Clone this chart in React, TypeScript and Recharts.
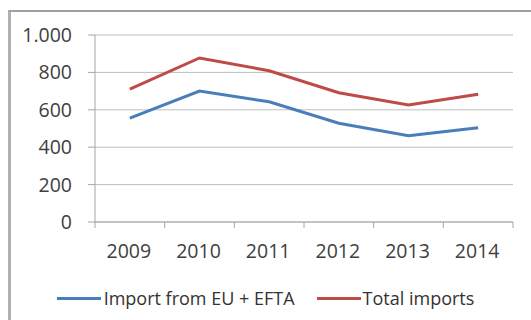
import React from 'react';
import { LineChart, Line, XAxis, YAxis, CartesianGrid, Legend } from 'recharts';

const years = ['2009', '2010', '2011', '2012', '2013', '2014'];
const importEuEfta = [555, 700, 643, 528, 461, 504];
const totalImports = [711, 877, 809, 691, 626, 683];
const yTicks = [0, 200, 400, 600, 800, 1000];

const data = years.map((y, i) => ({ year: y, eu: importEuEfta[i], total: totalImports[i] }));

const FONT = '"Open Sans", sans-serif';
const PLOT_LEFT = 95;
const PLOT_RIGHT = 513;
const BAND = (PLOT_RIGHT - PLOT_LEFT) / years.length;

const fmt = (v: number) => (v >= 1000 ? `${Math.floor(v / 1000)}.${String(v % 1000).padStart(3, '0')}` : String(v));

const XTick = (props: any) => {
  const { x, y, payload, index } = props;
  const left = x - BAND / 2;
  const right = x + BAND / 2;
  return (
    <g>
      <line x1={left} x2={left} y1={y} y2={y + 6} stroke="#a6a6a6" strokeWidth={1} />
      {index === years.length - 1 && (
        <line x1={right} x2={right} y1={y} y2={y + 6} stroke="#a6a6a6" strokeWidth={1} />
      )}
      <text x={x - 1} y={y + 36} textAnchor="middle" fill="#404040" fontSize={19.5} fontFamily={FONT}>
        {payload.value}
      </text>
    </g>
  );
};

const LegendContent = () => (
  <div style={{ display: 'flex', justifyContent: 'center', alignItems: 'center', height: 28, fontFamily: FONT, fontSize: 18, color: '#333' }}>
    <span style={{ display: 'inline-block', width: 44, height: 3, background: '#4a7ebb', marginRight: 3 }} />
    <span style={{ marginRight: 22 }}>Import from EU + EFTA</span>
    <span style={{ display: 'inline-block', width: 44, height: 3, background: '#be4b48', marginRight: 2 }} />
    <span>Total imports</span>
  </div>
);

export default function App() {
  return (
    <div style={{ position: 'absolute', left: 0, top: 0, width: 531, height: 320, background: '#fff', overflow: 'hidden' }}>
      <div style={{ position: 'absolute', left: 8, top: 10, width: 560, height: 340, borderLeft: '3px solid #b0b0b0', borderTop: '2px solid #a0a0a0' }} />
      <div style={{ position: 'absolute', left: 0, top: 0 }}>
        <LineChart width={531} height={320} data={data} margin={{ top: 35, right: 18, left: 0, bottom: 30 }}>
          <CartesianGrid vertical={false} stroke="#bfbfbf" strokeWidth={1} />
          <XAxis
            dataKey="year"
            height={40}
            padding={{ left: BAND / 2, right: BAND / 2 }}
            axisLine={{ stroke: '#a6a6a6' }}
            tickLine={false}
            tickSize={0}
            tickMargin={0}
            tick={<XTick />}
            interval={0}
          />
          <YAxis
            width={95}
            domain={[0, 1000]}
            ticks={yTicks}
            tickFormatter={fmt}
            axisLine={{ stroke: '#a6a6a6' }}
            tickLine={{ stroke: '#a6a6a6' }}
            tickSize={7}
            tickMargin={16}
            tick={{ fill: '#404040', fontSize: 19.5, fontFamily: FONT }}
            interval={0}
          />
          <Legend verticalAlign="bottom" content={<LegendContent />} wrapperStyle={{ top: 284, left: 0, width: 531, height: 28 }} />
          <Line type="linear" dataKey="total" name="Total imports" stroke="#be4b48" strokeWidth={3} dot={false} isAnimationActive={false} />
          <Line type="linear" dataKey="eu" name="Import from EU + EFTA" stroke="#4a7ebb" strokeWidth={3} dot={false} isAnimationActive={false} />
        </LineChart>
      </div>
    </div>
  );
}
